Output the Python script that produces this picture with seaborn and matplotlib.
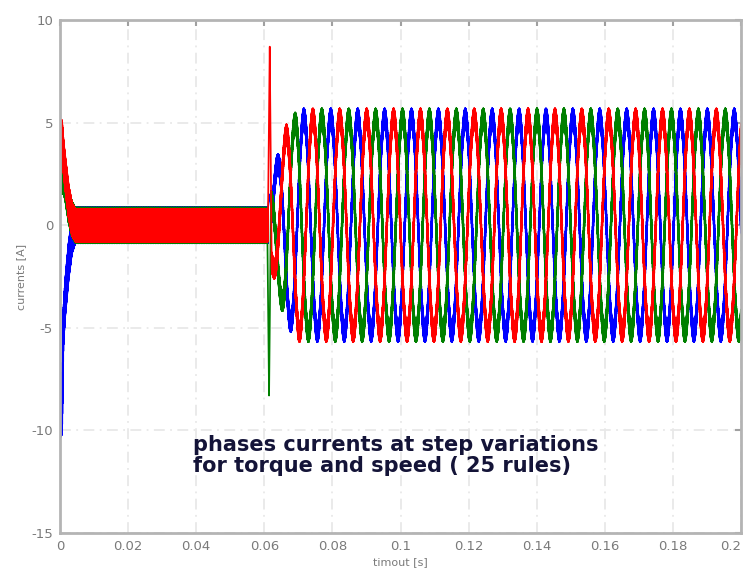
import numpy as np
import pandas as pd
import matplotlib
matplotlib.use("Agg")
import matplotlib.pyplot as plt
import seaborn as sns
from matplotlib.ticker import FixedLocator, FuncFormatter

# ---------------- data ----------------
phases = ["ia", "ib", "ic"]
phase_colors = ["#0000ff", "#008000", "#ff0000"]   # blue, dark green, red

# start-up transient offsets (s, A)
start_t = [0.0, 0.0006, 0.0010, 0.0015, 0.0025, 0.0035, 0.0045]
start_ia = [-9.5, -9.3, -5.0, -3.6, -1.8, -0.5, 0.0]
start_ib = [2.4, 2.4, 2.4, 2.1, 1.0, 0.3, 0.0]
start_ic = [4.4, 4.3, 3.4, 2.6, 1.2, 0.3, 0.0]

# switching ripple (chattering) amplitude (A) and frequency (Hz)
chatter_amp = [0.88, 0.86, 0.80]
post_ripple_amp = [0.45, 0.45, 0.45]
chatter_freq = 21000.0

# step instant, spikes (s, A)
t_step = 0.0612
spike_peak_t = [0.0616, 0.0614, 0.0616]
spike_peak_v = [1.5, -8.3, 8.7]
spike_halfwidth = 0.00055

# steady oscillation after the step
osc_freq = 126.6            # Hz
red_peak_time = 0.06637     # s, first red maximum
env_t = [0.0612, 0.0635, 0.0665, 0.0700, 0.2000]
env_v = [1.0, 2.8, 4.5, 5.25, 5.25]
phase_lag = [4 * np.pi / 3, 2 * np.pi / 3, 0.0]   # blue, green, red

x_ticks = [0, 0.02, 0.04, 0.06, 0.08, 0.1, 0.12, 0.14, 0.16, 0.18, 0.2]
y_ticks = [-15, -10, -5, 0, 5, 10]
note_text = "phases currents at step variations\nfor torque and speed ( 25 rules)"

# ---------------- build traces ----------------
t = np.arange(0.0, 0.2, 4e-6)
starts = [start_ia, start_ib, start_ic]
frames = []
for k, name in enumerate(phases):
    wave = np.sin(2 * np.pi * chatter_freq * t + k * 2.1 + 1.57)
    pre = np.interp(t, start_t, starts[k]) + chatter_amp[k] * wave
    env = np.interp(t, env_t, env_v)
    post = (env * np.cos(2 * np.pi * osc_freq * (t - red_peak_time) - phase_lag[k])
            + post_ripple_amp[k] * wave)
    y = np.where(t < t_step, pre, post)
    # spike around the step
    ta = spike_peak_t[k] - spike_halfwidth
    tb = spike_peak_t[k] + spike_halfwidth
    m = (t >= ta) & (t <= tb)
    ya = np.interp(ta, t, y)
    yb = np.interp(tb, t, y)
    y[m] = np.interp(t[m], [ta, spike_peak_t[k], tb], [ya, spike_peak_v[k], yb])
    frames.append(pd.DataFrame({"t": t, "current": y, "phase": name}))
df = pd.concat(frames, ignore_index=True)

# ---------------- plot ----------------
sns.set_style("white")
plt.rcParams["font.family"] = ["DejaVu Sans"]
fig = plt.figure(figsize=(7.44, 5.71), dpi=100)
ax = fig.add_axes([60 / 744, 1 - 533 / 571, 681 / 744, 513 / 571])

sns.lineplot(data=df, x="t", y="current", hue="phase", hue_order=phases,
             palette=phase_colors, estimator=None, sort=False, errorbar=None,
             legend=False, linewidth=1.25, ax=ax)

ax.set_xlim(0, 0.2)
ax.set_ylim(-15, 10)
ax.xaxis.set_major_locator(FixedLocator(x_ticks))
ax.yaxis.set_major_locator(FixedLocator(y_ticks))
ax.xaxis.set_major_formatter(FuncFormatter(lambda v, p: f"{v:g}"))
ax.yaxis.set_major_formatter(FuncFormatter(lambda v, p: f"{v:g}"))
ax.grid(True, color="#e8e8e8", linewidth=1.3, linestyle=(0, (6, 3, 1, 3)))
ax.set_axisbelow(True)
for s in ax.spines.values():
    s.set_color("#b4b4b4")
    s.set_linewidth(2.0)
ax.tick_params(direction="in", length=4, width=1.5, color="#a0a0a0",
               labelcolor="#7a7a7a", labelsize=9.5, top=True, right=True,
               pad=5)
# keep the last x label inside the figure
xt = ax.get_xticklabels()
xt[-1].set_horizontalalignment("right")
ax.set_xlabel("timout [s]", fontsize=8, color="#7a7a7a", labelpad=3)
ax.set_ylabel("currents [A]", fontsize=8, color="#7a7a7a", labelpad=4)

ax.text(0.0392, -10.2, note_text, fontsize=15, fontweight="bold",
        color="#141438", va="top", ha="left", linespacing=1.1)

fig.savefig("out.png", dpi=100)
